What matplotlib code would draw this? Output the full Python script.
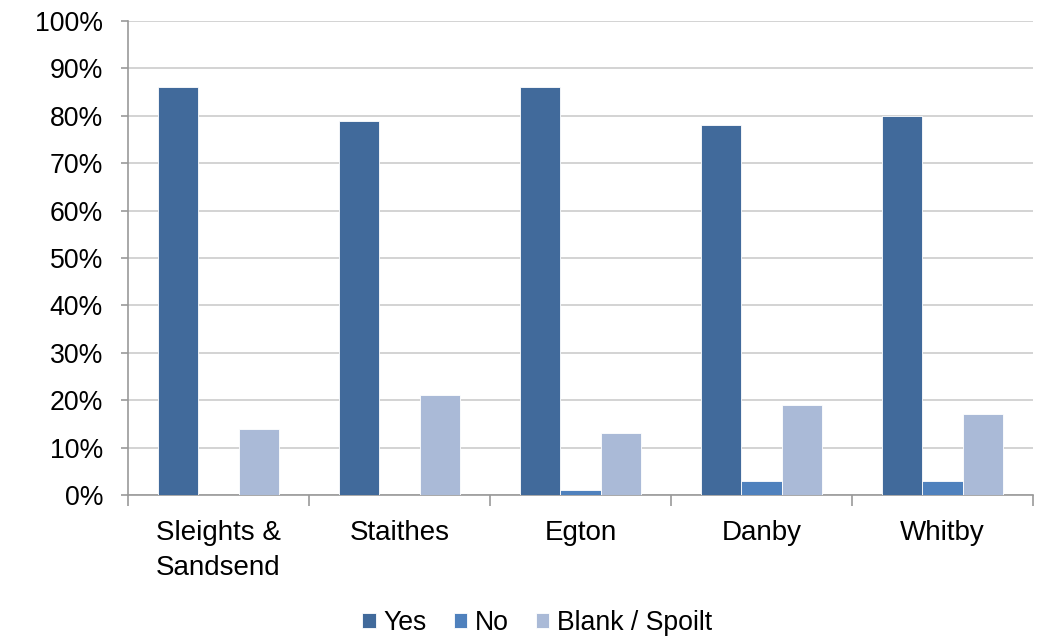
import matplotlib
matplotlib.use("Agg")
import matplotlib.pyplot as plt
import numpy as np
from matplotlib.ticker import FuncFormatter, FixedLocator

plt.rcParams['font.family'] = ['Liberation Sans', 'DejaVu Sans']

categories = ["Sleights &\nSandsend", "Staithes", "Egton", "Danby", "Whitby"]
series_names = ["Yes", "No", "Blank / Spoilt"]
yes = [86, 79, 86, 78, 80]
no = [0, 0, 1, 3, 3]
blank = [14, 21, 13, 19, 17]
colors = ["#416A9B", "#4F81BD", "#AABAD7"]

fig = plt.figure(figsize=(10.45, 6.36), dpi=100)
ax = fig.add_axes([0.1225, 0.2217, 0.866, 0.7453])

x = np.arange(len(categories))
w = 0.222
for i, (vals, name, c) in enumerate(zip([yes, no, blank], series_names, colors)):
    ax.bar(x + (i - 1) * w, vals, width=w, color=c, label=name,
           edgecolor="white", linewidth=0.6, zorder=3)

ax.set_xlim(-0.5, len(categories) - 0.5)
ax.set_ylim(0, 100)
ax.set_yticks(np.arange(0, 101, 10))
ax.yaxis.set_major_formatter(FuncFormatter(lambda v, p: f"{int(v)}%"))
ax.grid(axis="y", color="#D0D0D0", linewidth=1.3, zorder=0)

ax.set_xticks(x)
ax.set_xticklabels(categories, fontsize=20, linespacing=1.45)
ax.tick_params(axis="x", length=0, pad=18)
ax.xaxis.set_minor_locator(FixedLocator(np.arange(-0.5, len(categories), 1.0)))
ax.tick_params(axis="x", which="minor", length=8, color="#999999", width=1.2)
ax.tick_params(axis="y", labelsize=19.2, length=5, color="#999999", width=1.2, pad=13)

for s in ["top", "right"]:
    ax.spines[s].set_visible(False)
for s in ["left", "bottom"]:
    ax.spines[s].set_color("#999999")
    ax.spines[s].set_linewidth(1.2)

fig.legend(loc="center", bbox_to_anchor=(0.514, 0.02), ncol=3, frameon=False,
           fontsize=19.2, handlelength=0.5, handleheight=0.5, handletextpad=0.3,
           columnspacing=1.0)

fig.savefig("out.png", dpi=100)
